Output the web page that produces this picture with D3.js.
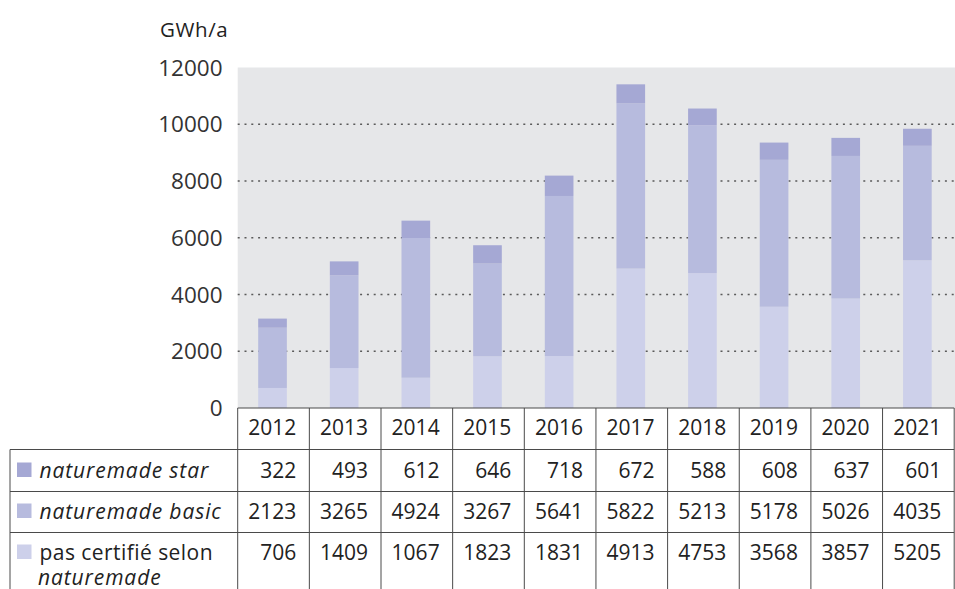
<!DOCTYPE html>
<html>
<head>
<meta charset="utf-8">
<script src="https://cdn.jsdelivr.net/npm/d3@7"></script>
<style>
  body { margin: 0; background: #fff; }
  svg { display: block; font-family: "Open Sans", sans-serif; }
</style>
</head>
<body>
<script>
var years = ["2012", "2013", "2014", "2015", "2016", "2017", "2018", "2019", "2020", "2021"];
var star = [322, 493, 612, 646, 718, 672, 588, 608, 637, 601];
var basic = [2123, 3265, 4924, 3267, 5641, 5822, 5213, 5178, 5026, 4035];
var notCertified = [706, 1409, 1067, 1823, 1831, 4913, 4753, 3568, 3857, 5205];
var yTicks = [0, 2000, 4000, 6000, 8000, 10000, 12000];

var width = 955, height = 589;
var plotLeft = 237.7, plotRight = 954.2, plotTop = 67.5, plotBottom = 408;
var colors = {star: "#a5a8d4", basic: "#b7bbde", none: "#cdd0ea"};

// one object per year for the stack
var table = years.map(function (y, i) {
    return {year: y, none: notCertified[i], basic: basic[i], star: star[i]};
});

var svg = d3.select("body").append("svg")
    .attr("width", width)
    .attr("height", height);

var x = d3.scaleBand().domain(years).range([plotLeft, plotRight]).paddingInner(0.6).paddingOuter(0.3);
var col = d3.scaleBand().domain(years).range([plotLeft, plotRight]).padding(0);
var y = d3.scaleLinear().domain([0, 12000]).range([plotBottom, plotTop]);

// plot background
svg.append("rect")
    .attr("x", plotLeft).attr("y", plotTop)
    .attr("width", width - plotLeft).attr("height", plotBottom - plotTop)
    .attr("fill", "#e6e7e9");

// dotted grid
svg.append("g")
    .selectAll("line")
    .data(yTicks.filter(function (d) { return d > 0 && d < 12000; }))
    .join("line")
    .attr("x1", plotLeft).attr("x2", width)
    .attr("y1", function (d) { return y(d); })
    .attr("y2", function (d) { return y(d); })
    .attr("stroke", "#5a5a5a")
    .attr("stroke-width", 1.5)
    .attr("stroke-dasharray", "2 4.8");

// stacked bars
var stack = d3.stack().keys(["none", "basic", "star"]);
svg.append("g")
    .selectAll("g")
    .data(stack(table))
    .join("g")
    .attr("fill", function (d) { return colors[d.key]; })
    .selectAll("rect")
    .data(function (d) { return d; })
    .join("rect")
    .attr("x", function (d) { return x(d.data.year) - 1; })
    .attr("width", x.bandwidth())
    .attr("y", function (d) { return y(d[1]); })
    .attr("height", function (d) { return y(d[0]) - y(d[1]); });

// y axis labels
svg.append("g")
    .attr("font-size", 22.5)
    .attr("fill", "#333")
    .attr("text-anchor", "end")
    .selectAll("text")
    .data(yTicks)
    .join("text")
    .attr("x", 222.5)
    .attr("y", function (d) { return y(d); })
    .attr("dy", "0.36em")
    .text(function (d) { return d; });

svg.append("text")
    .attr("x", 160).attr("y", 36.5)
    .attr("font-size", 20.5)
    .attr("letter-spacing", 0.6)
    .attr("fill", "#222")
    .text("GWh/a");

// data table below the chart
var rowsY = [408, 449.5, 491.5, 532.5, 600];
var rows = [
    {label: ["naturemade star"], italic: [true], color: colors.star, values: star, base: 478},
    {label: ["naturemade basic"], italic: [true], color: colors.basic, values: basic, base: 519},
    {label: ["pas certifié selon", "naturemade"], italic: [false, true], color: colors.none, values: notCertified, base: 560}
];
var lineColor = "#4a4a4a";
var grid = svg.append("g").attr("stroke", lineColor).attr("stroke-width", 1);

grid.append("line").attr("x1", plotLeft).attr("x2", plotRight).attr("y1", rowsY[0]).attr("y2", rowsY[0]);
[1, 2, 3].forEach(function (i) {
    grid.append("line").attr("x1", 10).attr("x2", plotRight).attr("y1", rowsY[i]).attr("y2", rowsY[i]);
});
grid.append("line").attr("x1", 10).attr("x2", 10).attr("y1", rowsY[1]).attr("y2", rowsY[4]);
grid.selectAll("line.v")
    .data(years)
    .join("line")
    .attr("class", "v")
    .attr("x1", function (d) { return col(d); })
    .attr("x2", function (d) { return col(d); })
    .attr("y1", rowsY[0]).attr("y2", rowsY[4]);
grid.append("line").attr("x1", plotRight).attr("x2", plotRight).attr("y1", rowsY[0]).attr("y2", rowsY[4]);

var pad = 13;
svg.append("g")
    .attr("font-size", 21)
    .attr("fill", "#222")
    .attr("text-anchor", "end")
    .selectAll("text")
    .data(years)
    .join("text")
    .attr("x", function (d) { return col(d) + col.bandwidth() - pad; })
    .attr("y", 435)
    .text(function (d) { return d; });

rows.forEach(function (r) {
    var g = svg.append("g").attr("font-size", 21).attr("fill", "#222");
    g.append("rect")
        .attr("x", 17).attr("y", r.base - 15.5)
        .attr("width", 14.5).attr("height", 14.5)
        .attr("fill", r.color);
    r.label.forEach(function (t, j) {
        g.append("text")
            .attr("x", j === 0 ? 39.5 : 38)
            .attr("y", r.base + j * 25)
            .attr("font-style", r.italic[j] ? "italic" : null)
            .attr("letter-spacing", r.italic[j] ? 0.9 : 0.45)
            .text(t);
    });
    g.append("g")
        .attr("text-anchor", "end")
        .selectAll("text")
        .data(r.values)
        .join("text")
        .attr("x", function (d, i) { return col(years[i]) + col.bandwidth() - pad; })
        .attr("y", r.base)
        .text(function (d) { return d; });
});
</script>
</body>
</html>
